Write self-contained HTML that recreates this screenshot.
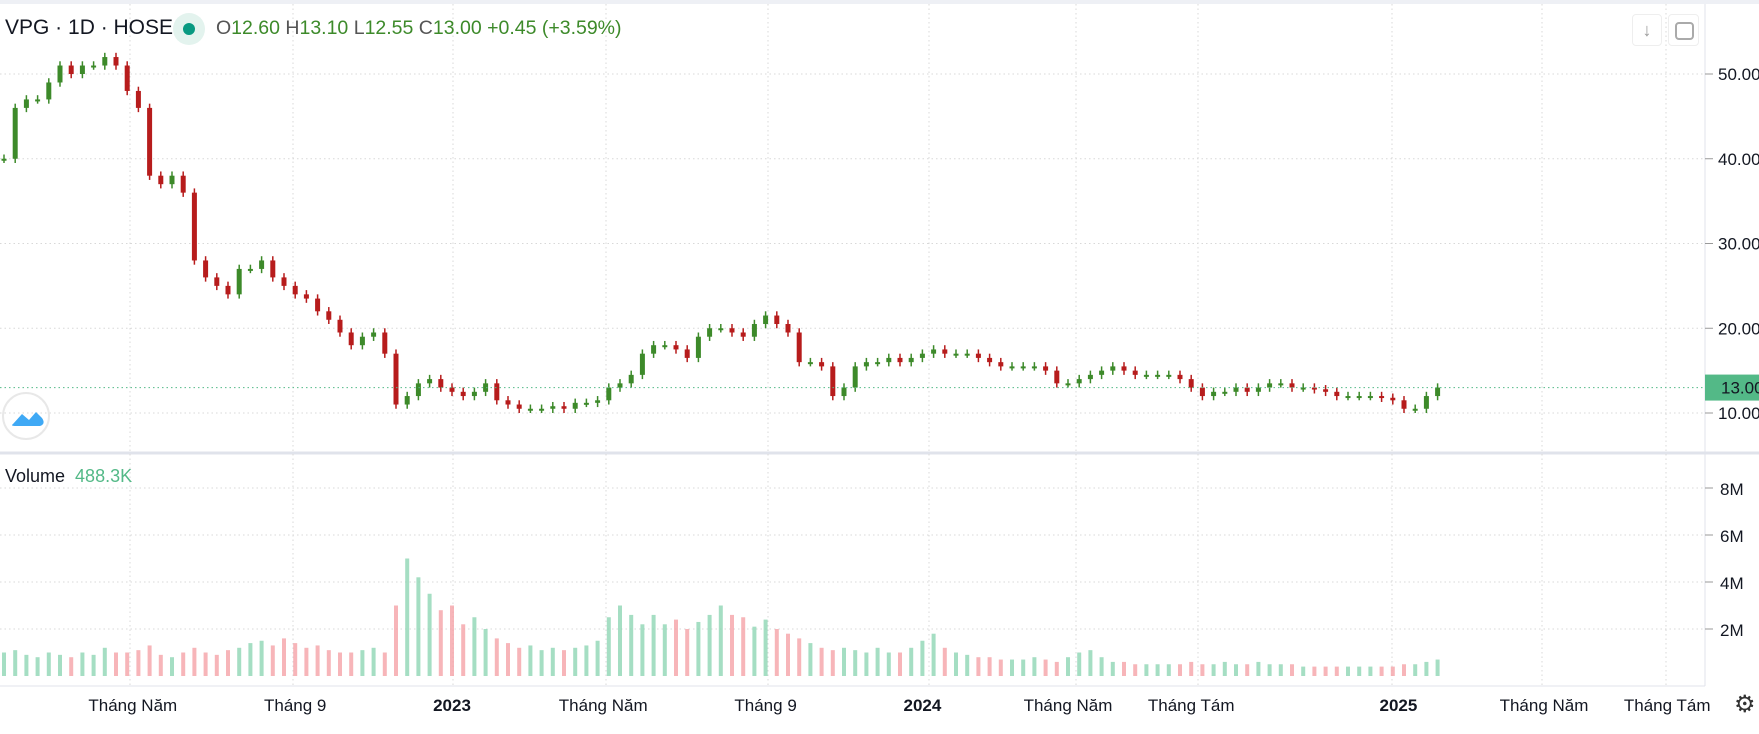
<!DOCTYPE html>
<html><head><meta charset="utf-8"><style>
body{margin:0;width:1759px;height:734px;overflow:hidden;background:#fff;font-family:"Liberation Sans",sans-serif;}
svg{position:absolute;left:0;top:0}
</style></head><body>
<svg id="c" width="1759" height="734"></svg>
<script>
const closes=[40,46,47,47,49,51,50,51,51,52,51,48,46,38,37,38,36,28,26,25,24,27,27,28,26,25,24,23.5,22,21,19.5,18,19,19.5,17,11,12,13.5,14,13,12.5,12,12.5,13.5,11.5,11,10.5,10.5,10.5,10.8,10.5,11.2,11.2,11.5,13,13.5,14.5,17,18,18,17.5,16.5,19,20,20,19.5,19,20.5,21.5,20.5,19.5,16,16,15.5,12,13,15.5,16,16,16.5,16,16.5,17,17.5,17,17,17,16.5,16,15.5,15.5,15.5,15.5,15,13.5,13.5,14,14.5,15,15.5,15,14.5,14.5,14.5,14.5,14,13,12,12.5,12.5,13,12.5,13,13.5,13.5,13,13,12.8,12.5,12,12,12,12,11.8,11.5,10.5,10.5,12,13];
const volumes=[1,1.1,0.9,0.8,1,0.9,0.8,1,0.9,1.2,1,1,1.1,1.3,0.9,0.8,1,1.2,1,0.9,1.1,1.2,1.4,1.5,1.3,1.6,1.4,1.2,1.3,1.1,1,1,1.1,1.2,1,3,5,4.2,3.5,2.8,3,2.2,2.5,2,1.6,1.4,1.2,1.3,1.1,1.2,1.1,1.2,1.3,1.5,2.5,3,2.6,2.2,2.6,2.2,2.4,2,2.3,2.6,3,2.6,2.5,2.1,2.4,2,1.8,1.6,1.4,1.2,1.1,1.2,1.1,1,1.2,1,1,1.2,1.5,1.8,1.2,1,0.9,0.8,0.8,0.7,0.7,0.7,0.8,0.7,0.6,0.8,1,1.1,0.8,0.6,0.6,0.5,0.5,0.5,0.5,0.5,0.6,0.5,0.5,0.6,0.5,0.5,0.6,0.5,0.5,0.5,0.4,0.4,0.4,0.4,0.4,0.4,0.4,0.4,0.4,0.5,0.5,0.6,0.7];
const priceTicks=[10,20,30,40,50];
const priceTickLabels=["10.00","20.00","30.00","40.00","50.00"];
const volTicks=[2,4,6,8];
const volTickLabels=["2M","4M","6M","8M"];
const timeLabels=["Tháng Năm","Tháng 9","2023","Tháng Năm","Tháng 9","2024","Tháng Năm","Tháng Tám","2025","Tháng Năm","Tháng Tám"];
const timePos=[11.5,26,40,53.5,68,82,95,106,124.5,137.5,148.5];
const lastPrice=13;

const NS="http://www.w3.org/2000/svg",svg=document.getElementById('c');
const xS=i=>4+i*11.2, yP=p=>413-(p-10)*8.475, yV=v=>676-v*23.5;
function mk(t,a,p){const e=document.createElementNS(NS,t);for(const k in a)e.setAttribute(k,a[k]);(p||svg).appendChild(e);return e;}
mk('rect',{x:0,y:0,width:1759,height:4,fill:'#eef0f5'});
mk('line',{x1:1705,y1:4,x2:1705,y2:686,stroke:'#e0e3eb'});
mk('line',{x1:0,y1:453,x2:1759,y2:453,stroke:'#e0e3eb','stroke-width':3});
mk('line',{x1:0,y1:686,x2:1705,y2:686,stroke:'#e0e3eb'});
[130,293,453,606,768,929,1076,1198,1392,1542,1666].forEach(x=>{const l=mk('line',{x1:x,y1:4,x2:x,y2:686,stroke:'#d8d8d8','stroke-dasharray':'1.5 3'});});
priceTicks.forEach((p,i)=>{const y=yP(p);mk('line',{x1:0,y1:y,x2:1705,y2:y,stroke:'#d8d8d8','stroke-dasharray':'1.5 3'});mk('line',{x1:1705,y1:y,x2:1713,y2:y,stroke:'#999'});
const t=mk('text',{x:1718,y:y+6,'font-size':17,fill:'#131722'});t.textContent=priceTickLabels[i];
});
volTicks.forEach((v,i)=>{const y=yV(v);mk('line',{x1:0,y1:y,x2:1705,y2:y,stroke:'#d8d8d8','stroke-dasharray':'1.5 3'});mk('line',{x1:1705,y1:y,x2:1713,y2:y,stroke:'#999'});
const t=mk('text',{x:1720,y:y+7,'font-size':17,fill:'#131722'});t.textContent=volTickLabels[i];
});
timeLabels.forEach((s,i)=>{const t=mk('text',{x:xS(timePos[i]),y:711,'font-size':17,fill:'#131722','text-anchor':'middle','font-weight':(/^\d/.test(s)?'bold':'normal')});t.textContent=s;
});
volumes.forEach((v,i)=>{const up=i==0||closes[i]>=closes[i-1];const r=mk('rect',{x:xS(i)-2,y:yV(v),width:4,height:676-yV(v),fill:up?'#8fd6b4':'#f5a3a8',opacity:0.8});
});
closes.forEach((c,i)=>{const o=i?closes[i-1]:c;const up=c>=o;const hi=Math.max(o,c)+0.5,lo=Math.min(o,c)-0.5;
const l=mk('line',{x1:xS(i),x2:xS(i),y1:yP(hi),y2:yP(lo),stroke:up?'#3d8a2a':'#b71c1c','stroke-width':1.5});

const r=mk('rect',{x:xS(i)-2.5,y:yP(Math.max(o,c)),width:5,height:Math.max(2,Math.abs(yP(o)-yP(c))),fill:up?'#3d8a2a':'#b71c1c'});
});
const ly=yP(lastPrice);
mk('line',{x1:0,y1:ly,x2:1705,y2:ly,stroke:'#53b987','stroke-dasharray':'1.5 3'});
const lb=mk('rect',{x:1705,y:ly-13,width:54,height:26,fill:'#53b987'});
const lt=mk('text',{x:1721,y:ly+6,'font-size':17,fill:'#131722'});lt.textContent=lastPrice.toFixed(2);
</script>
<div style="position:absolute;left:5px;top:16px;font-size:21px;color:#131722;white-space:nowrap">
<span>VPG · 1D · HOSE</span>
<span style="position:absolute;left:168px;top:-3px;width:32px;height:32px;border-radius:50%;background:#e3f3ee"><span style="position:absolute;left:10px;top:10px;width:12px;height:12px;border-radius:50%;background:#089981"></span></span>
<span style="position:absolute;left:211px;top:1px;font-size:19.5px;color:#3d8a2a"><span style="color:#555">O</span>12.60 <span style="color:#555">H</span>13.10 <span style="color:#555">L</span>12.55 <span style="color:#555">C</span>13.00 +0.45 (+3.59%)</span>
</div>
<div style="position:absolute;left:5px;top:466px;font-size:18px;color:#131722">Volume&nbsp;&nbsp;<span style="color:#53b987">488.3K</span></div>
<div style="position:absolute;left:2px;top:392px;width:48px;height:48px;border-radius:50%;border:2px solid #e8e8e8;box-sizing:border-box"><svg width="44" height="44" style="position:relative"><path d="M9 30 L18 20 L25 26 L32 18 L38 24 Q42 30 36 32 L12 32 Q6 32 9 30Z" fill="#3fa9f5"/></svg></div>
<div style="position:absolute;left:1632px;top:14px;width:28px;height:30px;border:1px solid #eee;border-radius:4px;color:#999;font-size:18px;text-align:center;line-height:30px">↓</div>
<div style="position:absolute;left:1668px;top:14px;width:29px;height:30px;border:1px solid #eee;border-radius:4px"><div style="margin:7px 6px;width:15px;height:14px;border:2px solid #aaa;border-radius:4px"></div></div>
<div style="position:absolute;left:1734px;top:690px;font-size:24px;color:#333">⚙</div>
</body></html>
